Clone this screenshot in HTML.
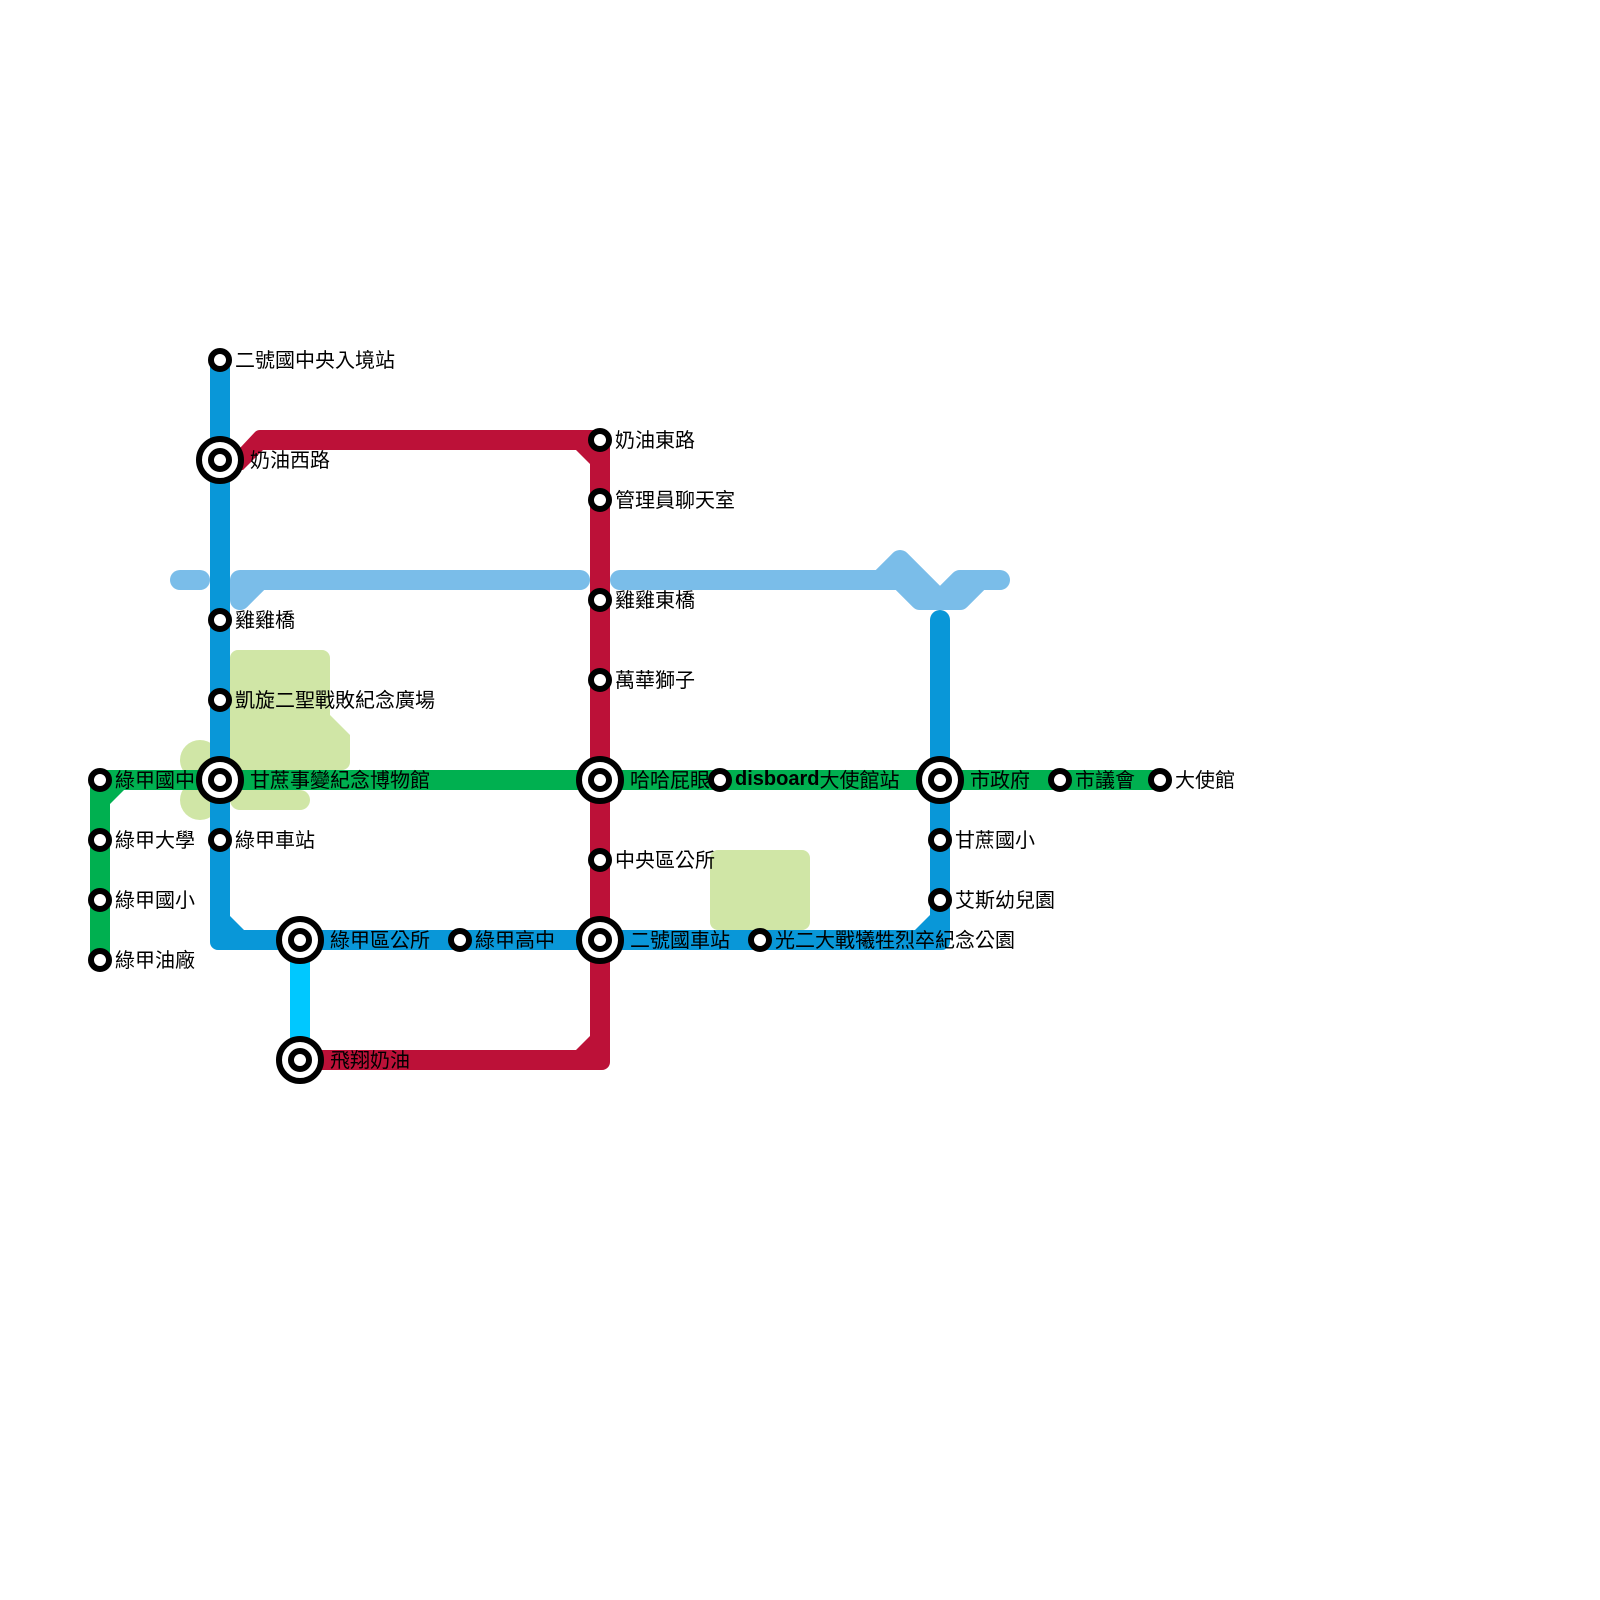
<!DOCTYPE html>
<html><head><meta charset="utf-8"><style>
html,body{margin:0;padding:0;background:#fff}
svg{display:block}
text{font-family:"Liberation Sans","WenQuanYi Zen Hei","Noto Sans CJK TC",sans-serif;font-size:20px;fill:#000}
.s{fill:#fff;stroke:#000;stroke-width:6}
</style></head><body>
<svg width="1600" height="1600" viewBox="0 0 1600 1600" xmlns="http://www.w3.org/2000/svg">
<rect width="1600" height="1600" fill="#fff"/>
<g fill="#d0e6a6">
<path d="M238,650H322A8,8 0 0 1 330,658V715L350,735V762A8,8 0 0 1 342,770H230V658A8,8 0 0 1 238,650Z"/>
<path d="M230,790H300A10,10 0 0 1 300,810H240A10,10 0 0 1 230,800Z"/>
<circle cx="200" cy="760" r="20"/>
<circle cx="200" cy="800" r="20"/>
<rect x="200" y="750" width="30" height="60"/>
<rect x="710" y="850" width="100" height="80" rx="8"/>
</g>
<g fill="none" stroke="#7abde9" stroke-width="20" stroke-linecap="round" stroke-linejoin="round">
<path d="M180,580H200"/>
<path d="M240,600V580H580M240,600L260,580"/>
<path d="M620,580H900L920,600H960L980,580H1000M880,580L900,560L940,600L960,580H1000"/>
</g>
<path d="M90,960V778A8,8 0 0 1 98,770H1160V790H124L110,804V960Z" fill="#00b050"/>
<path d="M290,940H310V1060H290Z" fill="#00c8ff"/>
<path d="M210,360H230V916L244,930H920V950H218A8,8 0 0 1 210,942Z" fill="#0997d8"/>
<path d="M930,620A10,10 0 0 1 950,620V942A8,8 0 0 1 942,950H900V930H915L930,915Z" fill="#0997d8"/>
<path d="M240,448L255,432Q257,430 260,430H602A8,8 0 0 1 610,438V1062A8,8 0 0 1 602,1070H320V1050H576L590,1036V464L576,450H263L243,470H235Z" fill="#bc1138"/>
<g class="st">
<circle class="s" cx="100" cy="780" r="9"/><circle class="s" cx="100" cy="840" r="9"/><circle class="s" cx="100" cy="900" r="9"/><circle class="s" cx="100" cy="960" r="9"/>
<circle class="s" cx="220" cy="360" r="9"/><circle class="s" cx="220" cy="620" r="9"/><circle class="s" cx="220" cy="700" r="9"/><circle class="s" cx="220" cy="840" r="9"/>
<circle class="s" cx="460" cy="940" r="9"/><circle class="s" cx="760" cy="940" r="9"/><circle class="s" cx="940" cy="840" r="9"/><circle class="s" cx="940" cy="900" r="9"/>
<circle class="s" cx="600" cy="440" r="9"/><circle class="s" cx="600" cy="500" r="9"/><circle class="s" cx="600" cy="600" r="9"/><circle class="s" cx="600" cy="680" r="9"/><circle class="s" cx="600" cy="860" r="9"/>
<circle class="s" cx="720" cy="780" r="9"/><circle class="s" cx="1060" cy="780" r="9"/><circle class="s" cx="1160" cy="780" r="9"/>
<circle class="s" cx="220" cy="460" r="21"/><circle class="s" cx="220" cy="460" r="9"/>
<circle class="s" cx="220" cy="780" r="21"/><circle class="s" cx="220" cy="780" r="9"/>
<circle class="s" cx="300" cy="940" r="21"/><circle class="s" cx="300" cy="940" r="9"/>
<circle class="s" cx="300" cy="1060" r="21"/><circle class="s" cx="300" cy="1060" r="9"/>
<circle class="s" cx="600" cy="780" r="21"/><circle class="s" cx="600" cy="780" r="9"/>
<circle class="s" cx="600" cy="940" r="21"/><circle class="s" cx="600" cy="940" r="9"/>
<circle class="s" cx="940" cy="780" r="21"/><circle class="s" cx="940" cy="780" r="9"/>
</g>
<g>
<text x="115" y="787">綠甲國中</text>
<text x="115" y="847">綠甲大學</text>
<text x="115" y="907">綠甲國小</text>
<text x="115" y="967">綠甲油廠</text>
<text x="235" y="367">二號國中央入境站</text>
<text x="250" y="467">奶油西路</text>
<text x="235" y="627">雞雞橋</text>
<text x="235" y="707">凱旋二聖戰敗紀念廣場</text>
<text x="250" y="787">甘蔗事變紀念博物館</text>
<text x="235" y="847">綠甲車站</text>
<text x="330" y="947">綠甲區公所</text>
<text x="475" y="947">綠甲高中</text>
<text x="330" y="1067">飛翔奶油</text>
<text x="615" y="447">奶油東路</text>
<text x="615" y="507">管理員聊天室</text>
<text x="615" y="607">雞雞東橋</text>
<text x="615" y="687">萬華獅子</text>
<text x="630" y="787">哈哈屁眼</text>
<text x="615" y="867">中央區公所</text>
<text x="630" y="947">二號國車站</text>
<text x="735" y="785"><tspan font-weight="bold">disboard</tspan><tspan y="787">大使館站</tspan></text>
<text x="775" y="947">光二大戰犧牲烈卒紀念公園</text>
<text x="970" y="787">市政府</text>
<text x="955" y="847">甘蔗國小</text>
<text x="955" y="907">艾斯幼兒園</text>
<text x="1075" y="787">市議會</text>
<text x="1175" y="787">大使館</text>
</g>
</svg>
</body></html>
